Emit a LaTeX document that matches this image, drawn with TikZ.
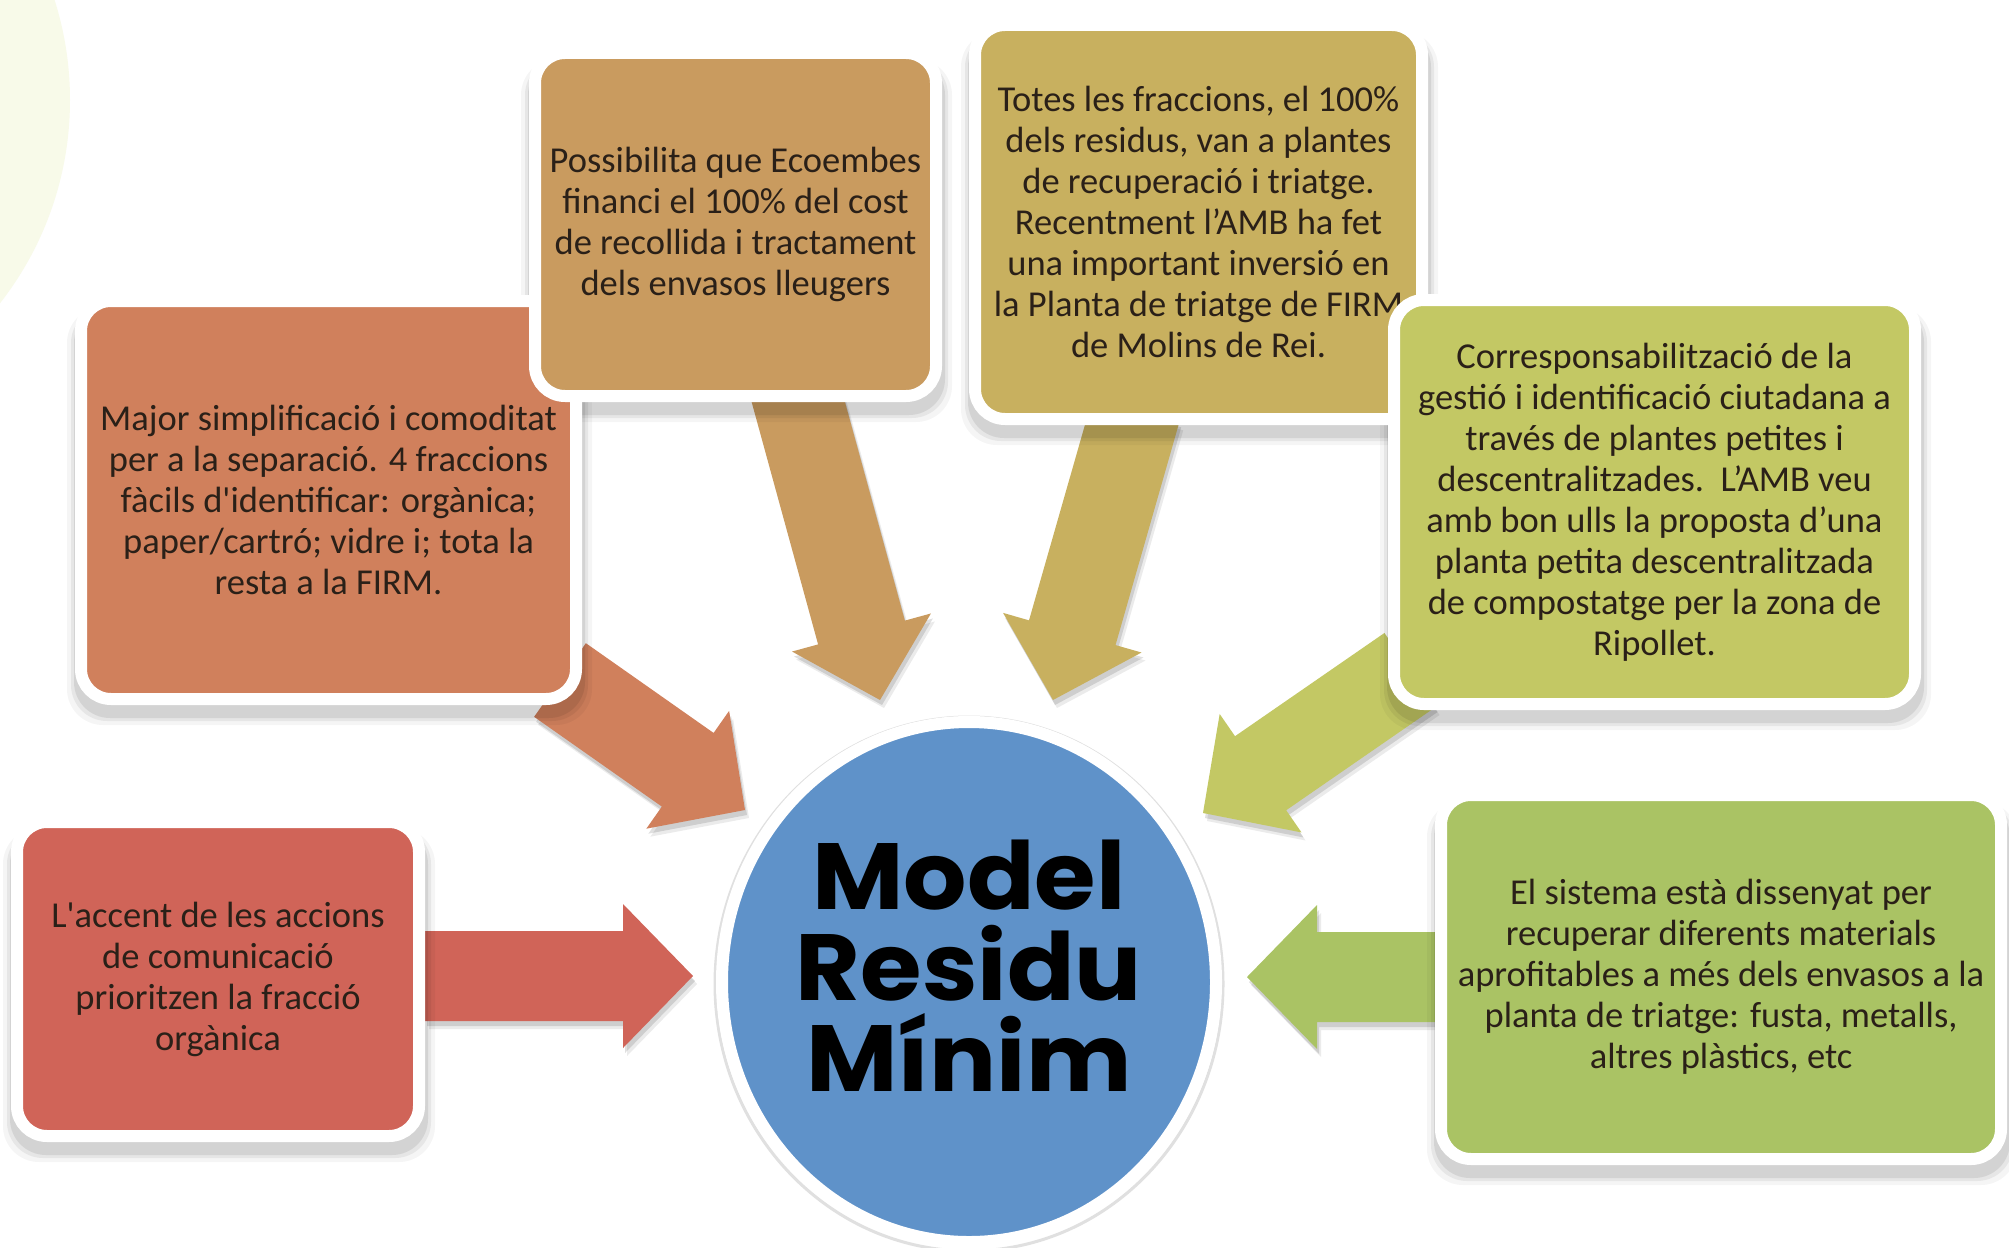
\documentclass[tikz,border=0pt]{standalone}
\usepackage{fontspec}
\setmainfont{Carlito}
\newfontfamily\titlefont{Poppins}[FakeStretch=1.06]
\usetikzlibrary{calc,shapes.geometric}
\definecolor{cRed}{HTML}{D06458}
\definecolor{cOrange}{HTML}{D0805C}
\definecolor{cTan}{HTML}{C99B5F}
\definecolor{cOlive}{HTML}{C8B05F}
\definecolor{cYell}{HTML}{C3C864}
\definecolor{cGreen}{HTML}{AAC364}
\definecolor{cBlue}{HTML}{5F92C9}
\definecolor{cPale}{HTML}{F8FAE9}
\definecolor{txt}{HTML}{2A2018}
\pgfdeclarelayer{bglayer}
\pgfdeclarelayer{arrowlayer}
\pgfdeclarelayer{shadowlayer}
\pgfsetlayers{bglayer,arrowlayer,shadowlayer,main}
\tikzset{
  infobox/.style={rounded corners=30pt, draw=white, line width=12pt, align=center,
    font=\fontsize{36.5}{41}\selectfont, text=txt, inner sep=0pt},
  corebox/.style={ellipse, draw=white, line width=12pt, fill=cBlue, inner sep=0pt},
  coretext/.style={align=center, font=\titlefont\bfseries\fontsize{94}{91}\selectfont,
    text=black, inner sep=0pt},
}
\newcommand\boxshadow[1]{%
  \begin{pgfonlayer}{shadowlayer}
  \foreach \e/\o in {14/0.04, 10/0.06, 7/0.08} {
    \fill[black, opacity=\o, rounded corners=36pt]
      ($(#1.north west)+(-\e+6,12)$) rectangle ($(#1.south east)+(\e-4,\e+6)$);
  }
  \end{pgfonlayer}}
\newcommand\blockarrow[3]{%
  \begin{pgfonlayer}{arrowlayer}
  \path coordinate (ab) at ($(#2)!70pt!(#1)$);
  \foreach \sx/\sy/\op in {4pt/-8pt/0.08, 2pt/-5pt/0.12} {
  \fill[black, opacity=\op, transform canvas={xshift=\sx,yshift=\sy}]
    ($(#1)!45pt!90:(#2)$) -- ($(ab)!45pt!90:(#2)$) -- ($(ab)!72pt!90:(#2)$) -- (#2)
    -- ($(ab)!72pt!-90:(#2)$) -- ($(ab)!45pt!-90:(#2)$) -- ($(#1)!45pt!-90:(#2)$) -- cycle;
  }
  \fill[#3]
    ($(#1)!45pt!90:(#2)$) -- ($(ab)!45pt!90:(#2)$) -- ($(ab)!72pt!90:(#2)$) -- (#2)
    -- ($(ab)!72pt!-90:(#2)$) -- ($(ab)!45pt!-90:(#2)$) -- ($(#1)!45pt!-90:(#2)$) -- cycle;
  \end{pgfonlayer}}
\begin{document}
\begin{tikzpicture}[x=1pt,y=-1pt]
\useasboundingbox (0,0) rectangle (2009,1247);
\begin{pgfonlayer}{bglayer}
\fill[white] (0,0) rectangle (2009,1247);
\fill[cPale] (-260,100) circle (330);
\end{pgfonlayer}

% central circle
\draw[black!12, line width=3pt] (969,984) ellipse (254 and 267);
\node[corebox, minimum width=494, minimum height=520] (core) at (969,982) {};
\node[coretext] (coretitle) at (969,966) {Model\\Residu\\Mínim};

% boxes (colored area + 12)
\node[infobox, fill=cOrange, minimum width=495, minimum height=398] (major) at (328.5,500)
  {Major simplificació i comoditat\\per a la separació. 4 fraccions\\fàcils d\textquotesingle identificar: orgànica;\\paper/cartró; vidre i; tota la\\resta a la FIRM.};
\node[infobox, fill=cRed, minimum width=402, minimum height=314] (accent) at (218,979)
  {L\textquotesingle accent de les accions\\de comunicació\\prioritzen la fracció\\orgànica};
\node[infobox, fill=cTan, minimum width=401, minimum height=343] (ecoemb) at (735.5,224.5)
  {Possibilita que Ecoembes\\financi el 100\% del cost\\de recollida i tractament\\dels envasos lleugers};
\node[infobox, fill=cOlive, minimum width=447, minimum height=394] (totes) at (1198.5,222)
  {Totes les fraccions, el 100\%\\dels residus, van a plantes\\de recuperació i triatge.\\Recentment l’AMB ha fet\\una important inversió en\\la Planta de triatge de FIRM\\de Molins de Rei.};
\node[infobox, fill=cYell, minimum width=521, minimum height=404] (corresp) at (1654.5,502)
  {Corresponsabilització de la\\gestió i identificació ciutadana a\\través de plantes petites i\\descentralitzades.\ \ L’AMB veu\\amb bon ulls la proposta d’una\\planta petita descentralitzada\\de compostatge per la zona de\\Ripollet.};
\node[infobox, fill=cGreen, minimum width=560, minimum height=364] (sistema) at (1721,977)
  {El sistema està dissenyat per\\recuperar diferents materials\\aprofitables a més dels envasos a la\\planta de triatge: fusta, metalls,\\altres plàstics, etc};

\boxshadow{major}
\boxshadow{accent}
\boxshadow{ecoemb}
\boxshadow{totes}
\boxshadow{corresp}
\boxshadow{sistema}

% arrow ends
\coordinate (sAccent) at (accent.east |- 0,976);
\coordinate (tAccent) at (693,976);
\coordinate (sMajor) at (560,680);
\coordinate (tMajor) at (745,810);
\coordinate (sEco) at (795,390);
\coordinate (tEco) at (880,700);
\coordinate (sTotes) at (1136,410);
\coordinate (tTotes) at (1053,700);
\coordinate (sCorr) at (1410,670);
\coordinate (tCorr) at (1203,813);
\coordinate (sSist) at (sistema.west |- 0,977);
\coordinate (tSist) at (1247,977);

\blockarrow{sAccent}{tAccent}{cRed}
\blockarrow{sMajor}{tMajor}{cOrange}
\blockarrow{sEco}{tEco}{cTan}
\blockarrow{sTotes}{tTotes}{cOlive}
\blockarrow{sCorr}{tCorr}{cYell}
\blockarrow{sSist}{tSist}{cGreen}
\end{tikzpicture}
\end{document}
